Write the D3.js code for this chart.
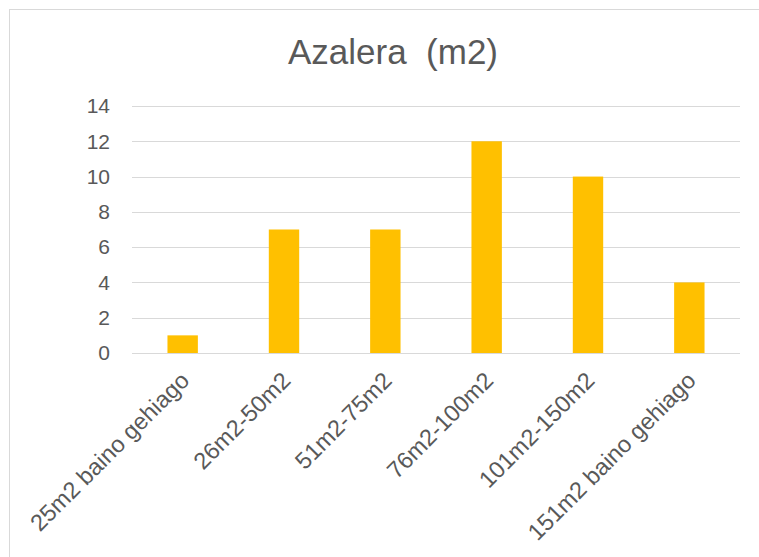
<!DOCTYPE html>
<html>
<head>
<meta charset="utf-8">
<script src="https://cdnjs.cloudflare.com/ajax/libs/d3/7.8.5/d3.min.js"></script>
<style>
  body { margin: 0; background: #fff; }
  text { font-family: "Liberation Sans", Arial, sans-serif; fill: #595959; }
</style>
</head>
<body>
<div id="chart"></div>
<script>
// chart data
var categories = ["25m2 baino gehiago", "26m2-50m2", "51m2-75m2", "76m2-100m2", "101m2-150m2", "151m2 baino gehiago"];
var values = [1, 7, 7, 12, 10, 4];
var yTicks = [0, 2, 4, 6, 8, 10, 12, 14];
var title = "Azalera  (m2)";

var W = 759, H = 557;
var margin = { top: 106, right: 19, bottom: 204, left: 132 };
var width = W - margin.left - margin.right;
var height = H - margin.top - margin.bottom;

var svg = d3.select("#chart").append("svg")
  .attr("width", W)
  .attr("height", H);

// outer frame (only top and left edges show)
svg.append("rect")
  .attr("x", 9.5)
  .attr("y", 9.5)
  .attr("width", W + 10)
  .attr("height", H + 10)
  .attr("fill", "none")
  .attr("stroke", "#d9d9d9")
  .attr("stroke-width", 1);

var g = svg.append("g")
  .attr("transform", "translate(" + margin.left + "," + margin.top + ")");

var x = d3.scaleBand()
  .domain(categories)
  .range([0, width])
  .paddingInner(0.7)
  .paddingOuter(0.35);

var y = d3.scaleLinear()
  .domain([0, 14])
  .range([height, 0]);

// gridlines
g.selectAll(".grid")
  .data(yTicks)
  .enter().append("line")
  .attr("class", "grid")
  .attr("x1", 0)
  .attr("x2", width)
  .attr("y1", function(d){ return Math.round(y(d)) + 0.5; })
  .attr("y2", function(d){ return Math.round(y(d)) + 0.5; })
  .attr("stroke", "#d9d9d9")
  .attr("stroke-width", 1);

// bars
g.selectAll(".bar")
  .data(values)
  .enter().append("rect")
  .attr("class", "bar")
  .attr("x", function(d, i){ return x(categories[i]); })
  .attr("width", x.bandwidth())
  .attr("y", function(d){ return y(d); })
  .attr("height", function(d){ return y(0) - y(d); })
  .attr("fill", "#ffc000");

// y axis labels
var yAxis = g.append("g")
  .call(d3.axisLeft(y).tickValues(yTicks).tickSize(0).tickPadding(22));
yAxis.select(".domain").remove();
yAxis.selectAll("text")
  .attr("font-size", 21)
  .attr("font-family", "Liberation Sans, Arial, sans-serif")
  .attr("fill", "#595959");

// x axis labels, rotated
var xAxis = g.append("g")
  .attr("transform", "translate(0," + height + ")")
  .call(d3.axisBottom(x).tickSize(0).tickPadding(0));
xAxis.select(".domain").remove();
xAxis.selectAll("text")
  .attr("font-size", 23.5)
  .attr("font-family", "Liberation Sans, Arial, sans-serif")
  .attr("fill", "#595959")
  .attr("text-anchor", "end")
  .attr("dy", null)
  .attr("y", 0)
  .attr("transform", "translate(8,29) rotate(-45)");

// title
svg.append("text")
  .attr("x", 393)
  .attr("y", 64)
  .attr("text-anchor", "middle")
  .attr("font-size", 35)
  .style("white-space", "pre")
  .text(title);
</script>
</body>
</html>
